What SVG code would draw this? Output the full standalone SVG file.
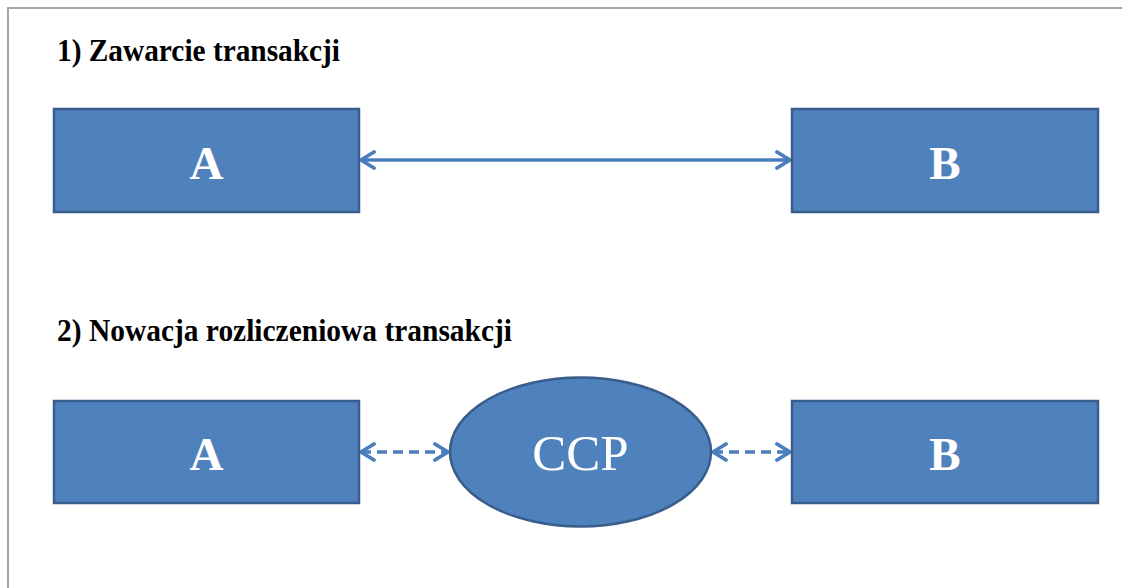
<svg xmlns="http://www.w3.org/2000/svg" width="1122" height="588" viewBox="0 0 1122 588">
  <defs>
    <style>
      .frame { stroke: #a6a6a6; stroke-width: 2; fill: none; }
      .heading { font-family: "Liberation Serif", "Times New Roman", serif; font-weight: bold; font-size: 32px; fill: #000; }
      .node { fill: #4f81bd; stroke: #385d8a; stroke-width: 2.5; }
      .label { font-family: "Liberation Serif", "Times New Roman", serif; fill: #fff; text-anchor: middle; }
      .bold { font-weight: bold; font-size: 47px; }
      .regular { font-size: 51px; }
      .link { stroke: #4a7ebb; stroke-width: 3.6; fill: none; }
      .dashed { stroke-dasharray: 10 6; }
    </style>
    <marker id="head" viewBox="0 0 18 20" refX="16" refY="10" markerWidth="18" markerHeight="20" markerUnits="userSpaceOnUse" orient="auto-start-reverse">
      <path d="M3,2 L16,10 L3,18" fill="none" stroke="#4a7ebb" stroke-width="3.8" stroke-linecap="round" stroke-linejoin="round"/>
    </marker>
  </defs>

  <rect width="1122" height="588" fill="#fff"/>
  <path class="frame" d="M8,588 V8 H1122"/>

  <text class="heading" x="57" y="61" textLength="283" lengthAdjust="spacingAndGlyphs">1) Zawarcie transakcji</text>
  <text class="heading" x="57" y="341" textLength="455" lengthAdjust="spacingAndGlyphs">2) Nowacja rozliczeniowa transakcji</text>

  <g id="connectors">
    <line class="link" x1="361" y1="160" x2="790" y2="160" marker-start="url(#head)" marker-end="url(#head)"/>
    <line class="link dashed" x1="361" y1="452" x2="448" y2="452" marker-start="url(#head)" marker-end="url(#head)"/>
    <line class="link dashed" x1="713" y1="452" x2="790" y2="452" marker-start="url(#head)" marker-end="url(#head)"/>
  </g>

  <g id="node-a1">
    <rect class="node" x="54" y="109" width="305" height="103"/>
    <text class="label bold" x="206.5" y="179">A</text>
  </g>
  <g id="node-b1">
    <rect class="node" x="792" y="109" width="306" height="103"/>
    <text class="label bold" x="945" y="179">B</text>
  </g>
  <g id="node-a2">
    <rect class="node" x="54" y="401" width="305" height="102"/>
    <text class="label bold" x="206.5" y="470">A</text>
  </g>
  <g id="node-ccp">
    <ellipse class="node" cx="580.5" cy="452" rx="130.5" ry="74.5"/>
    <text class="label regular" x="580.5" y="470">CCP</text>
  </g>
  <g id="node-b2">
    <rect class="node" x="792" y="401" width="306" height="102"/>
    <text class="label bold" x="945" y="470">B</text>
  </g>
</svg>
